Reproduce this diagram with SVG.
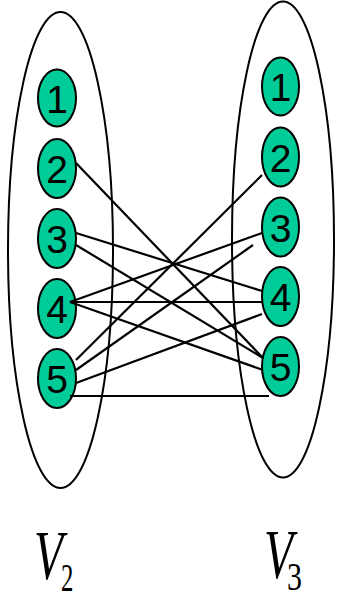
<svg xmlns="http://www.w3.org/2000/svg" width="337" height="600" viewBox="0 0 337 600">
<style>
.set{fill:none;stroke:#000;stroke-width:2}
.node ellipse{fill:#00cc99;stroke:#000;stroke-width:2}
.node text{font-family:"Liberation Sans","DejaVu Sans",sans-serif;font-size:39px;fill:#000;text-anchor:middle}
.edges line{stroke:#000;stroke-width:2.2}
.lbl{font-family:"Liberation Serif","Times New Roman",serif;fill:#000}
</style>
<rect width="337" height="600" fill="#fff"/>
<g id="set-V2"><ellipse class="set" cx="60.5" cy="250" rx="52.5" ry="238"/></g>
<g id="set-V3"><ellipse class="set" cx="283" cy="239.5" rx="51" ry="238"/></g>
<g id="a1" class="node"><ellipse cx="57" cy="98" rx="19" ry="28.5"/><text x="57" y="112.5">1</text></g>
<g id="a2" class="node"><ellipse cx="57" cy="168.5" rx="19" ry="29.5"/><text x="57" y="183">2</text></g>
<g id="a3" class="node"><ellipse cx="57" cy="238.5" rx="19" ry="29.5"/><text x="57" y="253">3</text></g>
<g id="a4" class="node"><ellipse cx="57" cy="308.5" rx="19" ry="29.5"/><text x="57" y="323">4</text></g>
<g id="a5" class="node"><ellipse cx="57" cy="378.5" rx="19" ry="29.5"/><text x="57" y="393">5</text></g>
<g id="b1" class="node"><ellipse cx="280.5" cy="86.5" rx="18.5" ry="29"/><text x="280.5" y="101">1</text></g>
<g id="b2" class="node"><ellipse cx="280.5" cy="157" rx="18.5" ry="29.5"/><text x="280.5" y="171.5">2</text></g>
<g id="b3" class="node"><ellipse cx="280.5" cy="227" rx="18.5" ry="29.5"/><text x="280.5" y="241.5">3</text></g>
<g id="b4" class="node"><ellipse cx="280.5" cy="296.5" rx="18.5" ry="29.5"/><text x="280.5" y="311">4</text></g>
<g id="b5" class="node"><ellipse cx="280.5" cy="366.5" rx="18.5" ry="29.5"/><text x="280.5" y="381">5</text></g>
<g id="edges" class="edges">
<line x1="76" y1="163" x2="263" y2="358"/>
<line x1="76" y1="233" x2="262" y2="291"/>
<line x1="76" y1="245" x2="263" y2="358"/>
<line x1="70" y1="302" x2="262" y2="233"/>
<line x1="70" y1="302" x2="262" y2="302"/>
<line x1="70" y1="302" x2="263" y2="370"/>
<line x1="76" y1="360" x2="262" y2="175"/>
<line x1="76" y1="370" x2="253" y2="245"/>
<line x1="76" y1="383" x2="262" y2="314"/>
<line x1="70" y1="396" x2="269" y2="396"/>
</g>
<g id="label-V2">
<text class="lbl" font-style="italic" font-size="70" transform="translate(34,579) scale(0.68,1)">V</text>
<text class="lbl" font-size="40" transform="translate(61,591) scale(0.62,1)">2</text>
</g>
<g id="label-V3">
<text class="lbl" font-style="italic" font-size="70" transform="translate(264,578) scale(0.68,1)">V</text>
<text class="lbl" font-size="40" transform="translate(287,590) scale(0.75,1)">3</text>
</g>
</svg>
